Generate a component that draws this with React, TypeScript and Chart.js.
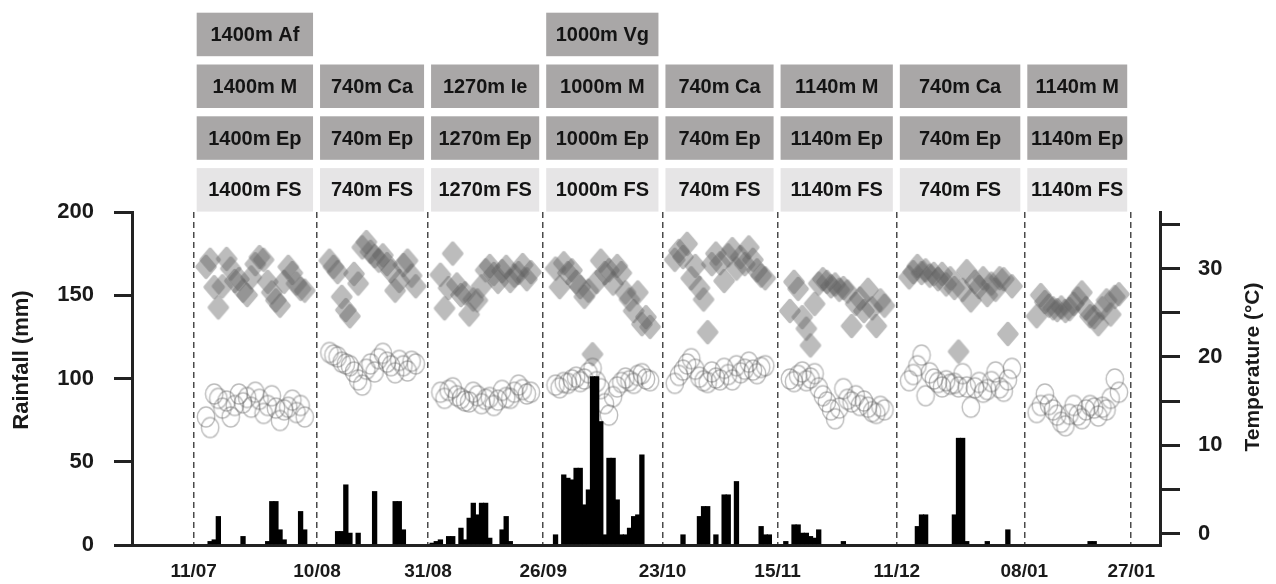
import React, { useEffect, useRef } from 'react';
import { Chart, registerables } from 'chart.js';

Chart.register(...registerables);

const FONT = '"Liberation Sans", Arial, Helvetica, sans-serif';

// Day-slot index where each sampling period starts (last entry closes the final period)
const periodStartDay = [15, 45, 72, 100, 129, 157, 186, 217, 243];
const periodLabels = ['11/07', '10/08', '31/08', '26/09', '23/10', '15/11', '11/12', '08/01', '27/01'];
const axisEndDay = 250;

// Daily rainfall (mm), by day-slot index
const rainDay = [
  19, 20, 21, 27, 33, 34, 35, 36, 37, 41, 42,
  50, 51, 52, 53, 55, 59, 64, 65, 66,
  73, 74, 75, 77, 78, 80, 81, 82, 83, 84, 85, 86, 87, 90, 91, 92,
  103, 105, 106, 107, 108, 109, 110, 111, 112, 113, 114, 115, 116, 117, 118, 119, 120, 121, 122, 123, 124,
  134, 138, 139, 140, 142, 144, 145, 147, 153, 154, 155,
  159, 161, 162, 163, 164, 165, 166, 167, 173,
  191, 192, 193, 200, 201, 202, 203, 208, 213,
  233, 234,
];
const rainMm = [
  2, 3, 17, 5, 2, 26, 26, 9, 3, 20, 9,
  8, 8, 36, 7, 7, 32, 26, 26, 9,
  1, 2, 3, 5, 5, 10, 3, 16, 25, 18, 25, 25, 4, 9, 17, 2,
  6, 42, 40, 39, 46, 46, 24, 33, 101, 101, 74, 6, 52, 52, 27, 6, 6, 10, 17, 18, 54,
  6, 17, 23, 23, 6, 30, 30, 38, 11, 6, 6,
  2, 12, 12, 7, 7, 5, 4, 9, 2,
  11, 18, 18, 18, 64, 64, 2, 2, 9,
  2, 2,
];

// Daily maximum temperature (°C) per sampling period
const maxTemp1 = [30.2, 31, 27.9, 25.6, 28, 31.1, 30, 28.6, 28.8, 27.5, 27, 29, 30.5, 31.3, 31, 28.5, 27.3, 26.4, 25.8, 28.5, 30.2, 29.5, 28.3, 27.7, 27.5];
const maxTemp2 = [30.9, 30.2, 29.6, 26.8, 25.3, 24.6, 29.4, 28.3, 32.4, 33, 31.9, 31.4, 30.9, 31.5, 30.5, 29.7, 27.5, 28.6, 30.4, 30.9, 29.2, 28];
const maxTemp3 = [29.3, 25.5, 27.8, 31.7, 28.2, 27, 27.2, 24.8, 26.5, 26.4, 28, 29.8, 30.3, 29.4, 28.5, 29.7, 30.2, 28.6, 29.2, 29.5, 30.4, 28.8, 29.6];
const maxTemp4 = [30, 27.9, 30.6, 29.5, 29.8, 28.5, 27.9, 26.8, 27.5, 20.3, 28.5, 30.9, 29.5, 29.8, 28.3, 30.3, 29.5, 27.3, 26.5, 25.2, 27.3, 23.7, 24.5, 23.4];
const maxTemp5 = [31, 32, 31.3, 32.8, 28.9, 30.3, 27.8, 26.5, 22.8, 30.5, 31.7, 30.6, 28.6, 31.5, 32.2, 30, 31.3, 30.5, 32.4, 31, 29.8, 29.2, 28.9];
const maxTemp6 = [25.2, 28.5, 27.7, 24.5, 23.2, 21.3, 26, 28.3, 28.8, 28.5, 28, 28.2, 27.6, 27.8, 27.4, 23.5, 26, 26.6, 25.2, 27.6, 25.5, 23.5, 26.4, 25.8];
const maxTemp7 = [29, 29.6, 30.3, 29.5, 29.8, 29.2, 29.4, 28.8, 29.4, 28.2, 28.9, 27.8, 20.6, 27.6, 29.7, 26.4, 28.5, 27.9, 28.9, 27, 28.3, 27.6, 28.9, 28.8, 22.6, 28];
const maxTemp8 = [24.6, 27, 26.2, 25.8, 25.5, 25.3, 25.6, 25.2, 25.4, 26, 26.6, 27.3, 25.5, 24.6, 24.5, 23.7, 25.5, 26.4, 24.8, 26.8, 27.1];

// Daily minimum temperature (°C) per sampling period
const minTemp1 = [13.2, 12, 15.8, 15.3, 14.2, 15, 13.2, 14.5, 15.8, 14.8, 15.4, 14.3, 16, 15.2, 13.6, 14.5, 15.6, 14.2, 12.8, 14, 14.3, 15.1, 13.7, 14.5, 13.2];
const minTemp2 = [20.5, 20.2, 20, 19.4, 19.2, 19, 18.3, 17.4, 16.8, 18.6, 19.2, 18.3, 19.8, 20.4, 19.4, 19, 18.2, 19.6, 19, 18.4, 19.5, 19.2];
const minTemp3 = [16, 15.3, 16.2, 16.5, 15.6, 15.3, 15, 14.9, 16, 15.6, 14.7, 15.2, 15.4, 14.5, 15.1, 16.2, 15.4, 15.3, 16, 16.8, 16.3, 15.8, 16];
const minTemp4 = [16.8, 16.5, 17.1, 17, 17.4, 17.7, 17.2, 17.5, 18.2, 18.7, 17.2, 16.4, 14.7, 13.4, 15.5, 16.6, 17.1, 17.6, 17.3, 17, 17.9, 18.1, 17.5, 17.3];
const minTemp5 = [17, 17.9, 18.5, 19.2, 19.8, 18.6, 17.7, 17.3, 17.1, 18.3, 17.6, 17.4, 18.7, 18, 17.4, 19, 18.2, 18.6, 19.4, 18.5, 18.1, 18.8, 19];
const minTemp6 = [17.5, 17.2, 17.9, 18.3, 17.3, 17.6, 18.1, 16.5, 15.6, 14.9, 14, 13, 14.2, 16.4, 15.2, 14.9, 15.6, 14.5, 15, 14.3, 13.8, 13.6, 14.4, 14];
const minTemp7 = [17.3, 18, 19, 20.2, 15.6, 18.2, 17.5, 17.1, 16.6, 17.3, 16.9, 17, 16.6, 18.1, 16.6, 14.3, 16.5, 17.1, 16, 16.3, 17.2, 18.3, 16.5, 16.1, 17.4, 18.7];
const minTemp8 = [13.7, 14.5, 15.8, 14.6, 14, 13.4, 12.6, 12.2, 13.5, 14.5, 13.4, 13, 14, 14.5, 14.2, 13.3, 14.3, 14, 15.3, 17.5, 16];

// Site labels shown above each period, top row first
const siteRow1 = ['1400m Af', '', '', '1000m Vg', '', '', '', ''];
const siteRow2 = ['1400m M', '740m Ca', '1270m Ie', '1000m M', '740m Ca', '1140m M', '740m Ca', '1140m M'];
const siteRow3 = ['1400m Ep', '740m Ep', '1270m Ep', '1000m Ep', '740m Ep', '1140m Ep', '740m Ep', '1140m Ep'];
const siteRow4 = ['1400m FS', '740m FS', '1270m FS', '1000m FS', '740m FS', '1140m FS', '740m FS', '1140m FS'];

const tempTicks = [0, 5, 10, 15, 20, 25, 30, 35];

function periodPoints(periods: number[][]) {
  const pts: { x: number; y: number }[] = [];
  periods.forEach((vals, k) => {
    vals.forEach((v, i) => pts.push({ x: periodStartDay[k] + 3 + i, y: v }));
  });
  return pts;
}

// Soft rounded diamond marker for daily maxima
function makeDiamond(): HTMLCanvasElement {
  const c = document.createElement('canvas');
  c.width = 28;
  c.height = 30;
  const g = c.getContext('2d')!;
  g.filter = 'blur(0.5px)';
  g.beginPath();
  g.moveTo(14, 4.5);
  g.lineTo(23, 15);
  g.lineTo(14, 25.5);
  g.lineTo(5, 15);
  g.closePath();
  g.fillStyle = '#000';
  g.strokeStyle = '#000';
  g.lineWidth = 3.5;
  g.lineJoin = 'round';
  g.fill();
  g.stroke();
  g.filter = 'none';
  g.globalCompositeOperation = 'source-in';
  g.fillStyle = 'rgba(95,95,95,0.42)';
  g.fillRect(0, 0, c.width, c.height);
  return c;
}

// Open ring marker for daily minima
function makeRing(): HTMLCanvasElement {
  const c = document.createElement('canvas');
  c.width = 26;
  c.height = 28;
  const g = c.getContext('2d')!;
  g.filter = 'blur(0.3px)';
  g.beginPath();
  g.ellipse(13, 14, 8.7, 10, 0, 0, Math.PI * 2);
  g.strokeStyle = 'rgba(95,95,95,0.42)';
  g.lineWidth = 1.4;
  g.stroke();
  return c;
}

const siteBoxes = {
  id: 'siteBoxes',
  afterDraw(chart: any) {
    const { ctx, scales } = chart;
    const x = scales.x;
    const rows = [siteRow1, siteRow2, siteRow3, siteRow4];
    const top0 = 12.7;
    const step = 51.8;
    const h = 43.5;
    ctx.save();
    ctx.font = `bold 20px ${FONT}`;
    ctx.textAlign = 'center';
    ctx.textBaseline = 'middle';
    rows.forEach((row, r) => {
      row.forEach((label, c) => {
        if (!label) return;
        const x0 = x.getPixelForValue(periodStartDay[c]) + 3;
        const x1 = x.getPixelForValue(periodStartDay[c + 1]) - 4;
        const top = top0 + r * step;
        ctx.fillStyle = r === 3 ? '#e6e5e6' : '#a9a7a7';
        ctx.fillRect(x0, top, x1 - x0, h);
        ctx.fillStyle = '#141414';
        ctx.fillText(label, (x0 + x1) / 2, top + h / 2 + 1);
      });
    });
    ctx.restore();
  },
};

const axisTitles = {
  id: 'axisTitles',
  afterDraw(chart: any) {
    const { ctx } = chart;
    ctx.save();
    ctx.fillStyle = '#1a1a1a';
    ctx.textAlign = 'center';
    ctx.textBaseline = 'middle';
    ctx.font = `bold 22px ${FONT}`;
    ctx.translate(22, 360);
    ctx.rotate(-Math.PI / 2);
    ctx.fillText('Rainfall (mm)', 0, 0);
    ctx.restore();
    ctx.save();
    ctx.fillStyle = '#1a1a1a';
    ctx.textAlign = 'center';
    ctx.textBaseline = 'middle';
    ctx.font = `bold 21px ${FONT}`;
    ctx.translate(1253, 367);
    ctx.rotate(-Math.PI / 2);
    ctx.fillText('Temperature (°C)', 0, 0);
    ctx.restore();
  },
};

export default function App() {
  const ref = useRef<HTMLCanvasElement>(null);

  useEffect(() => {
    document.body.style.margin = '0';
    const canvas = ref.current;
    if (!canvas) return;

    const diamond = makeDiamond();
    const ring = makeRing();

    const rainPoints = rainDay.map((d, i) => ({ x: d, y: rainMm[i] }));
    const maxPoints = periodPoints([maxTemp1, maxTemp2, maxTemp3, maxTemp4, maxTemp5, maxTemp6, maxTemp7, maxTemp8]);
    const minPoints = periodPoints([minTemp1, minTemp2, minTemp3, minTemp4, minTemp5, minTemp6, minTemp7, minTemp8]);

    const tickFont = { family: FONT, weight: 'bold' as const };

    const chart = new Chart(canvas, {
      type: 'bar',
      data: {
        datasets: [
          {
            type: 'bar',
            label: 'Rainfall',
            data: rainPoints as any,
            backgroundColor: '#000',
            borderColor: '#000',
            borderWidth: 0,
            inflateAmount: 0.6,
            barPercentage: 1,
            categoryPercentage: 1,
            xAxisID: 'x',
            yAxisID: 'y',
            order: 0,
          },
          {
            type: 'scatter',
            label: 'Tmin',
            data: minPoints as any,
            pointStyle: ring as any,
            pointRadius: 10,
            showLine: false,
            xAxisID: 'x',
            yAxisID: 'y2',
            order: 2,
          },
          {
            type: 'scatter',
            label: 'Tmax',
            data: maxPoints as any,
            pointStyle: diamond as any,
            pointRadius: 10,
            showLine: false,
            xAxisID: 'x',
            yAxisID: 'y2',
            order: 1,
          },
        ] as any,
      },
      options: {
        animation: false,
        responsive: false,
        maintainAspectRatio: false,
        layout: { padding: { top: 212, left: 0, right: 0, bottom: 0 } },
        plugins: {
          legend: { display: false },
          tooltip: { enabled: false },
        },
        scales: {
          x: {
            type: 'linear',
            position: 'bottom',
            min: 0,
            max: axisEndDay,
            offset: false,
            afterBuildTicks: (s: any) => {
              s.ticks = periodStartDay.map((v) => ({ value: v }));
            },
            afterFit: (s: any) => {
              s.height = 39;
            },
            ticks: {
              autoSkip: false,
              maxRotation: 0,
              minRotation: 0,
              padding: 15,
              color: '#1a1a1a',
              font: { ...tickFont, size: 19 },
              callback: (_v: any, i: number) => periodLabels[i],
            },
            grid: {
              offset: false,
              drawOnChartArea: true,
              drawTicks: false,
              tickLength: 0,
              color: '#4a4a4a',
              lineWidth: 1.5,
            },
            border: { display: true, color: '#222', width: 3, dash: [6, 4] },
          },
          y: {
            type: 'linear',
            position: 'left',
            min: 0,
            max: 200,
            afterFit: (s: any) => {
              s.width = 132;
            },
            ticks: {
              stepSize: 50,
              padding: 20,
              color: '#1a1a1a',
              font: { ...tickFont, size: 22 },
            },
            grid: {
              drawOnChartArea: false,
              drawTicks: true,
              tickLength: 18,
              color: '#222',
              lineWidth: 3,
            },
            border: { display: true, color: '#222', width: 3 },
          },
          y2: {
            type: 'linear',
            position: 'right',
            min: -1.3,
            max: 36.4,
            afterBuildTicks: (s: any) => {
              s.ticks = tempTicks.map((v) => ({ value: v }));
            },
            afterFit: (s: any) => {
              s.width = 116;
            },
            ticks: {
              padding: 18,
              color: '#1a1a1a',
              font: { ...tickFont, size: 22 },
              callback: (v: any) => (Number(v) % 10 === 0 ? String(v) : ''),
            },
            grid: {
              drawOnChartArea: false,
              drawTicks: true,
              tickLength: 20,
              color: '#222',
              lineWidth: 3,
            },
            border: { display: true, color: '#222', width: 3 },
          },
        },
      } as any,
      plugins: [siteBoxes, axisTitles],
    });

    return () => chart.destroy();
  }, []);

  return (
    <div style={{ width: 1276, height: 584, position: 'relative', background: '#fff' }}>
      <canvas ref={ref} width={1276} height={584} style={{ display: 'block' }} />
    </div>
  );
}
